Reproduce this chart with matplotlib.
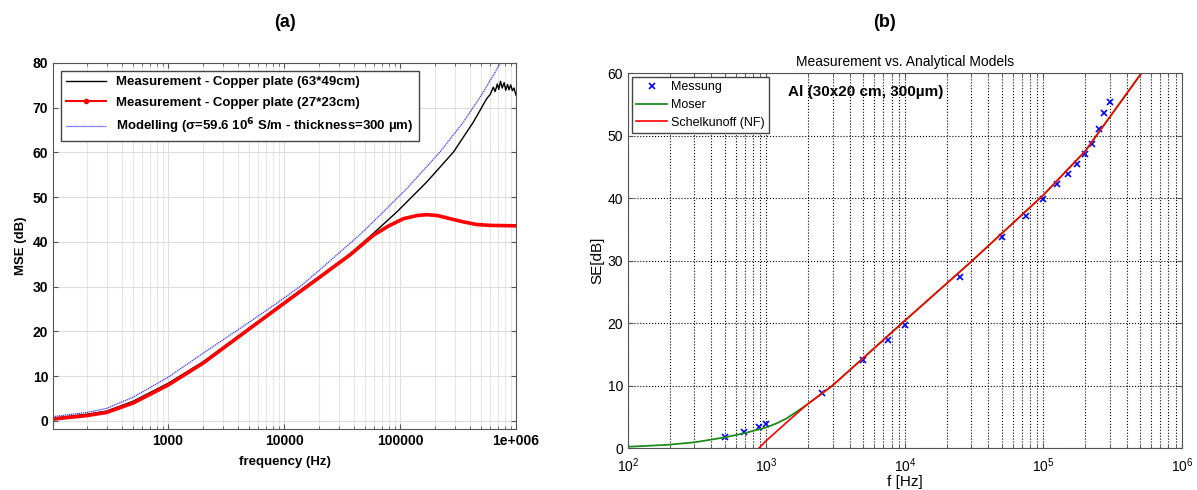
import numpy as np
import matplotlib.pyplot as plt
from matplotlib.ticker import LogLocator, NullFormatter, FixedLocator

# ---- panel (a) data ----
f_model = [102, 200, 295, 500, 1000, 2000, 5100, 8650, 14000, 20000, 30000,
           45000, 67300, 114000, 221000, 352000, 523000, 728000]
mse_model = [0.96, 1.9, 2.8, 5.3, 9.75, 15.1, 22.2, 26.3, 30.2, 33.6, 37.6,
             41.6, 46.0, 51.9, 60.1, 66.8, 73.5, 79.8]

f_big = [100, 200, 295, 500, 1000, 2000, 5100, 10900, 20000, 37000, 60000,
         93800, 170000, 289000, 429000, 558000, 600000, 637000, 660000, 690000,
         710000, 735000, 760000, 790000, 815000, 845000, 870000, 900000,
         930000, 960000, 1000000]
mse_big = [0.6, 1.5, 2.2, 4.4, 8.4, 13.2, 20.9, 27.2, 32.2, 37.3, 42.1,
           46.7, 53.4, 60.1, 66.8, 72.0, 73.0, 74.6, 73.6, 75.3, 74.1, 75.9,
           74.4, 75.6, 73.9, 75.2, 74.0, 75.1, 73.8, 74.4, 72.8]

f_small = [100, 200, 295, 500, 1000, 2000, 5100, 10900, 20000, 37000, 59000,
           80000, 107000, 140000, 170000, 210000, 270000, 350000, 457000,
           600000, 1000000]
mse_small = [0.4, 1.2, 1.9, 4.0, 8.0, 12.9, 20.7, 27.0, 32.0, 37.1, 41.5,
             43.6, 45.2, 45.9, 46.1, 45.9, 45.2, 44.5, 43.9, 43.7, 43.6]

# ---- panel (b) data ----
f_meas = [500, 690, 890, 1000, 2500, 5000, 7500, 10000, 25000, 50000, 75000,
          100000, 125000, 150000, 175000, 200000, 225000, 250000, 275000, 300000]
se_meas = [1.7, 2.6, 3.3, 3.8, 8.85, 14.1, 17.3, 19.7, 27.3, 33.7, 37.2,
           39.8, 42.2, 43.9, 45.5, 47.1, 48.6, 51.0, 53.6, 55.4]

f_moser = [100, 190, 300, 500, 700, 1000, 1200, 1400, 1650, 1950, 2400,
           3000, 5000, 10000, 30000, 100000, 200000, 510000]
se_moser = [0.2, 0.5, 0.9, 1.7, 2.4, 3.3, 4.0, 4.75, 5.8, 6.9, 8.4,
            10.0, 14.4, 20.4, 29.8, 40.5, 47.5, 60.0]

f_schel = [884, 1000, 1400, 1950, 3000, 5000, 10000, 30000, 100000, 200000,
           510000]
se_schel = [0.0, 1.2, 4.1, 6.9, 10.0, 14.4, 20.4, 29.8, 40.5, 47.5, 60.0]

fig = plt.figure(figsize=(11.97, 4.9), dpi=100)
plt.rcParams['font.family'] = ['Arial', 'Liberation Sans', 'DejaVu Sans']

# ---------- (a) ----------
ax1 = fig.add_axes([0.0443, 0.1245, 0.3868, 0.747])
ax1.semilogx(f_big, mse_big, '-', color='k', lw=1.0,
             label='Measurement - Copper plate (63*49cm)')
ax1.semilogx(f_small, mse_small, '-', color='red', lw=2.6,
             label='Measurement - Copper plate (27*23cm)')
ax1.semilogx(f_model, mse_model, color='#3a3aff', lw=0.9,
             linestyle=(0, (1, 0.6)),
             label=u'Modelling (\u03c3=59.6 10$^{\\mathbf{6}}$ S/m - thickness=300 \u00b5m)')
ax1.set_xlim(102, 1e6)
ax1.set_ylim(-1.8, 80)
ax1.set_yticks(range(0, 81, 10))
ax1.xaxis.set_major_locator(FixedLocator([1000, 10000, 100000, 1000000]))
ax1.set_xticklabels(['1000', '10000', '100000', '1e+006'])
ax1.xaxis.set_minor_locator(LogLocator(base=10, subs=np.arange(2, 10)))
ax1.xaxis.set_minor_formatter(NullFormatter())
ax1.grid(True, which='major', color='#dddddd', lw=0.8)
ax1.grid(True, which='minor', axis='x', color='#e6e6e6', lw=0.8)
ax1.tick_params(labelsize=10, direction='in', which='both', top=True, right=True,
                color='#555555')
for lab in ax1.get_xticklabels() + ax1.get_yticklabels():
    lab.set_fontweight('bold')
ax1.set_xlabel('frequency (Hz)', fontsize=9.5, fontweight='bold', labelpad=6)
ax1.set_ylabel('MSE (dB)', fontsize=9.5, fontweight='bold')
for s in ax1.spines.values():
    s.set_color('#555555')
leg = ax1.legend(loc='upper left', prop={'weight': 'bold', 'size': 9.5},
                 fancybox=False, edgecolor='#444444', framealpha=1,
                 borderaxespad=0.6, handlelength=3.0, labelspacing=0.6)
# small dot on the red legend line, like the original
leg.get_lines()[1].set_linewidth(1.5)
leg.get_lines()[1].set_marker('.')
leg.get_lines()[1].set_markevery([1])
fig.text(0.238, 0.955, '(a)', fontsize=13, fontweight='bold', ha='center', va='center')

# ---------- (b) ----------
ax2 = fig.add_axes([0.5246, 0.0857, 0.4628, 0.765])
ax2.semilogx(f_meas, se_meas, 'x', color='blue', markersize=4, mew=1.2,
             label='Messung')
ax2.semilogx(f_moser, se_moser, '-', color='#1e8a1e', lw=1.3, label='Moser')
ax2.semilogx(f_schel, se_schel, '-', color='red', lw=1.2,
             label='Schelkunoff (NF)')
ax2.set_xlim(100, 1e6)
ax2.set_ylim(0, 60)
ax2.set_yticks(range(0, 61, 10))
ax2.xaxis.set_major_locator(LogLocator(base=10))
ax2.xaxis.set_minor_locator(LogLocator(base=10, subs=np.arange(2, 10)))
ax2.xaxis.set_minor_formatter(NullFormatter())
ax2.grid(True, which='major', color='k', ls=':', lw=0.8)
ax2.grid(True, which='minor', axis='x', color='k', ls=':', lw=0.8)
ax2.tick_params(labelsize=10, direction='in', which='both', top=True, right=True,
                color='#555555')
ax2.tick_params(axis='x', pad=6)
for s in ax2.spines.values():
    s.set_color('#555555')
ax2.set_xlabel('f [Hz]', fontsize=11, labelpad=0)
ax2.set_ylabel('SE[dB]', fontsize=11, labelpad=2)
ax2.set_title('Measurement vs. Analytical Models', fontsize=10, pad=5)
ax2.text(1.43e3, 57, u'Al (30x20 cm, 300\u00b5m)', fontsize=11,
         fontweight='bold', va='center')
ax2.legend(loc='upper left', fontsize=9, fancybox=False, edgecolor='#444444',
           framealpha=1, borderaxespad=0.3, handlelength=2.5,
           borderpad=0.35, labelspacing=0.45, handletextpad=0.3)
fig.text(0.739, 0.955, '(b)', fontsize=13, fontweight='bold', ha='center', va='center')

fig.savefig('out.png', dpi=100)
